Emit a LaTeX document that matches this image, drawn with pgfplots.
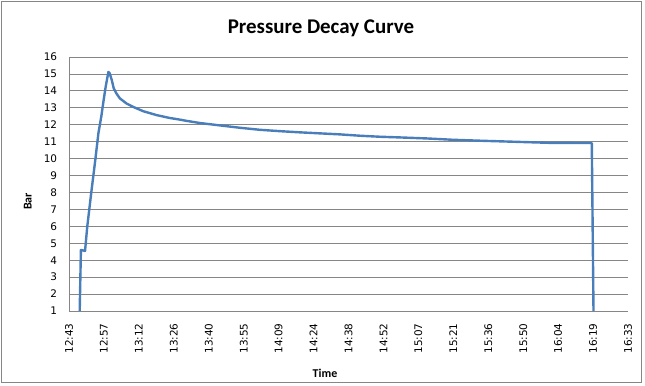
\documentclass[border=0pt]{standalone}
\usepackage{pgfplots}
\pgfplotsset{compat=1.18}
\usepackage{fontspec}
\setmainfont{Carlito}
\newfontfamily\dejavu{DejaVu Sans}
\definecolor{excelblue}{RGB}{74,126,187}
\definecolor{gridgray}{RGB}{134,134,134}
\begin{document}
\begin{tikzpicture}[x=1bp,y=1bp]
\useasboundingbox (0,0) rectangle (645,385);
\draw[gridgray, line width=0.8bp] (1.3,2.3) rectangle (641.7,384);
\begin{axis}[
  at={(69bp,74bp)}, anchor=south west,
  width=559bp, height=254bp, scale only axis,
  xmin=0, xmax=230, ymin=1, ymax=16,
  xtick={0,14.375,28.75,43.125,57.5,71.875,86.25,100.625,115,129.375,143.75,158.125,172.5,186.875,201.25,215.625,230},
  xticklabels={12:43,12:57,13:12,13:26,13:40,13:55,14:09,14:24,14:38,14:52,15:07,15:21,15:36,15:50,16:04,16:19,16:33},
  ytick={1,2,...,16},
  axis x line*=bottom, axis y line*=left,
  axis line style={draw=gridgray, line width=0.8bp, -},
  major tick length=0pt,
  ymajorgrids, grid style={draw=gridgray, line width=0.8bp},
  /pgf/number format/assume math mode=true,
  ticklabel style={font=\dejavu\fontsize{10.5}{12}\selectfont, inner sep=0pt},
  yticklabel style={anchor=east},
  yticklabel shift={11.7bp},
  xticklabel style={rotate=90, anchor=east},
  xticklabel shift={12.3bp},
  clip=false,
]
\addplot[excelblue, line width=2.4bp, line join=round] coordinates {
(4.4,1) (4.9,4.6) (6.6,4.55) (7.5,5.97) (9.2,8.04) (10.8,9.9) (12.1,11.5)
(13.3,12.5) (14.3,13.5) (15.1,14.25) (16.2,15.12) (16.7,15.05) (17.6,14.64)
(18.4,14.15) (19.5,13.85) (20.9,13.56) (23.6,13.26) (26.3,13.06) (30.5,12.8)
(36,12.57) (41.4,12.40) (45.7,12.30) (48.3,12.23) (53.9,12.10) (62.1,11.96)
(70.4,11.82) (78.6,11.70) (86.8,11.62) (95.1,11.55) (103.3,11.49) (111.5,11.43)
(119.8,11.35) (128,11.29) (136.2,11.25) (147.2,11.19) (158.2,11.11) (170.5,11.05)
(184.2,10.99) (197.9,10.93) (215.1,10.92) (215.8,1)
};
\end{axis}
\node[anchor=base, font=\bfseries\fontsize{21}{25}\selectfont] at (321,351.5) {Pressure Decay Curve};
\node[anchor=base, font=\bfseries\fontsize{12}{14}\selectfont] at (325,7.7) {Time};
\node[anchor=base, rotate=90, font=\bfseries\fontsize{12}{14}\selectfont] at (31.7,183.5) {Bar};
\end{tikzpicture}
\end{document}
